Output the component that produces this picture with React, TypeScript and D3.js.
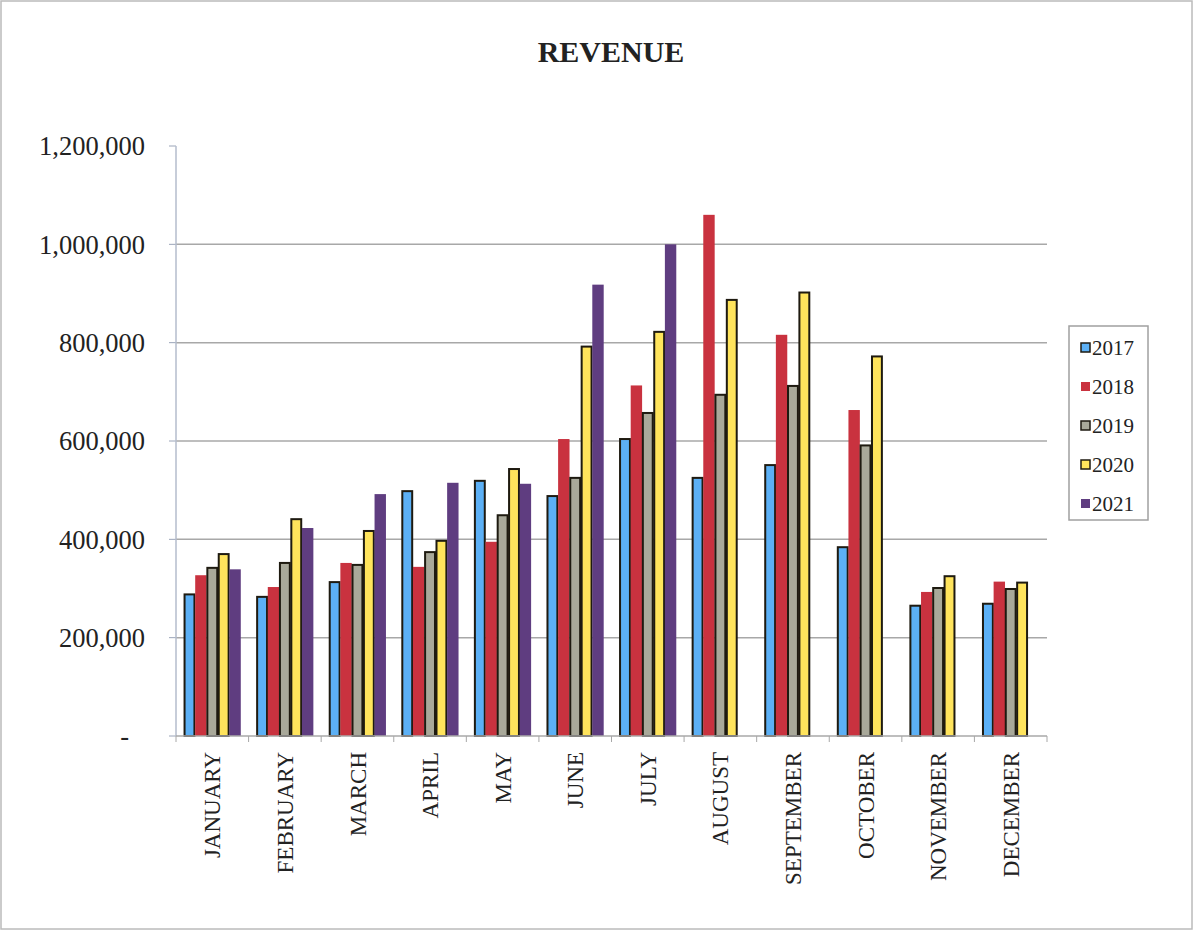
import React from 'react';
import * as d3 from 'd3';

const months = ['JANUARY', 'FEBRUARY', 'MARCH', 'APRIL', 'MAY', 'JUNE', 'JULY', 'AUGUST', 'SEPTEMBER', 'OCTOBER', 'NOVEMBER', 'DECEMBER'];
const years = ['2017', '2018', '2019', '2020', '2021'];

const rev2017 = [288000, 283000, 313000, 498000, 519000, 488000, 604000, 525000, 551000, 384000, 265000, 269000];
const rev2018 = [327000, 303000, 352000, 344000, 395000, 604000, 713000, 1060000, 816000, 663000, 293000, 314000];
const rev2019 = [342000, 352000, 348000, 374000, 449000, 525000, 657000, 694000, 712000, 591000, 301000, 299000];
const rev2020 = [370000, 441000, 417000, 397000, 543000, 792000, 822000, 887000, 902000, 772000, 325000, 312000];
const rev2021 = [339000, 423000, 492000, 515000, 513000, 918000, 1000000, null, null, null, null, null];

const yTicks = [0, 200000, 400000, 600000, 800000, 1000000, 1200000];

const series = [rev2017, rev2018, rev2019, rev2020, rev2021];
const fills = ['#5cb0f5', '#c9323f', '#a9a99a', '#ffe45c', '#5f3d80'];
const outlined = [true, false, true, true, false];

const W = 1193;
const H = 930;
const left = 176;
const right = 1047;
const top = 146;
const bottom = 736;

const App: React.FC = () => {
  if (typeof document !== 'undefined') document.body.style.margin = '0';

  const x0 = d3.scaleBand<string>().domain(months).range([left, right]).paddingInner(0.215).paddingOuter(0.1075);
  const x1 = d3.scaleBand<string>().domain(years).range([0, x0.bandwidth()]);
  const y = d3.scaleLinear().domain([0, 1200000]).range([bottom, top]);
  const fmt = d3.format(',');
  const step = (right - left) / months.length;

  return (
    <svg width={W} height={H} style={{ display: 'block', background: '#fff' }} fontFamily="'Liberation Serif', 'Times New Roman', serif">
      <rect x={1} y={1} width={W - 2} height={H - 2} fill="#fff" stroke="#bbb" strokeWidth={1.5} />
      <text x={611} y={62} textAnchor="middle" fontSize={30} fontWeight="bold" fill="#222">REVENUE</text>

      {/* grid */}
      {yTicks.map((t) => (
        <g key={t}>
          {t > 0 && t < 1200000 && (
            <line x1={left} x2={right} y1={y(t)} y2={y(t)} stroke="#a8a8a8" strokeWidth={1.5} />
          )}
          <line x1={left - 7} x2={left} y1={y(t)} y2={y(t)} stroke="#9aa4b8" strokeWidth={1} />
          <text x={t === 0 ? 129 : 145} y={y(t)} dy="0.35em" textAnchor="end" fontSize={26.5} fill="#222">
            {t === 0 ? '-' : fmt(t)}
          </text>
        </g>
      ))}

      <line x1={left} x2={left} y1={top} y2={bottom} stroke="#b4bccc" strokeWidth={1.5} />

      {/* bars */}
      {months.map((m, i) => (
        <g key={m} transform={`translate(${x0(m)},0)`}>
          {series.map((s, k) => {
            const v = s[i];
            if (v == null) return null;
            return (
              <rect
                key={k}
                x={(x1(years[k]) as number) + (outlined[k] ? 0.75 : 0)}
                y={y(v)}
                width={x1.bandwidth() - (outlined[k] ? 1.5 : 0)}
                height={bottom - y(v)}
                fill={fills[k]}
                stroke={outlined[k] ? '#1e1a10' : 'none'}
                strokeWidth={2}
              />
            );
          })}
        </g>
      ))}

      {/* x axis */}
      <line x1={left} x2={right} y1={bottom} y2={bottom} stroke="#a8a8a8" strokeWidth={1.5} />
      {d3.range(months.length + 1).map((i) => (
        <line key={i} x1={left + i * step} x2={left + i * step} y1={bottom} y2={bottom + 6} stroke="#a8a8a8" strokeWidth={1} />
      ))}
      {months.map((m) => {
        const cx = (x0(m) as number) + x0.bandwidth() / 2;
        return (
          <text key={m} transform={`translate(${cx},752) rotate(-90)`} dy="0.35em" textAnchor="end" fontSize={23} fill="#222">
            {m}
          </text>
        );
      })}

      {/* legend */}
      <rect x={1069} y={326} width={79} height={194} fill="#fff" stroke="#a0a0a0" strokeWidth={1.5} />
      {years.map((yr, k) => {
        const cy = 348 + k * 39;
        return (
          <g key={yr}>
            <rect x={1081} y={cy - 5} width={9} height={9} fill={fills[k]} stroke={outlined[k] ? '#1e1a10' : 'none'} strokeWidth={1.5} />
            <text x={1092} y={cy} dy="0.35em" fontSize={21} fill="#222">{yr}</text>
          </g>
        );
      })}
    </svg>
  );
};

export default App;
